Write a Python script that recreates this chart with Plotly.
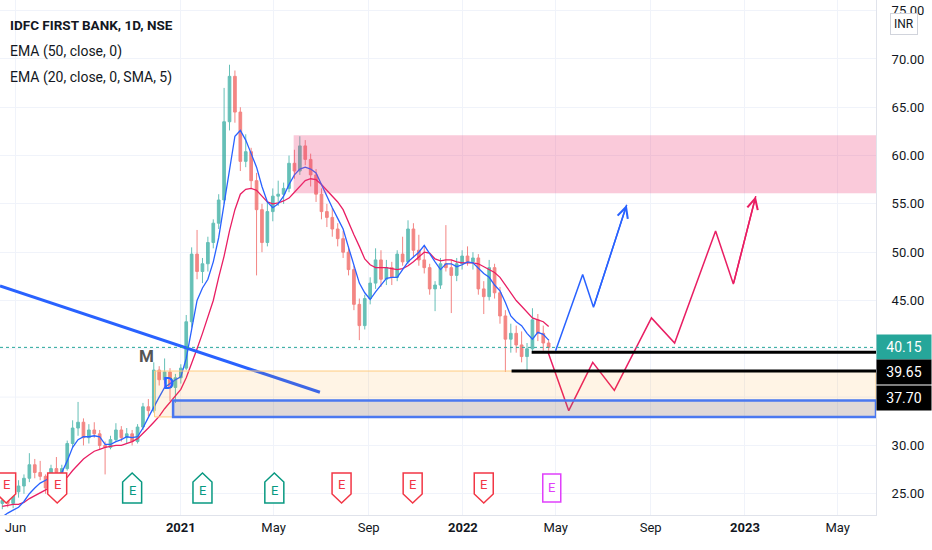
import plotly.graph_objects as go
import pandas as pd

# ---------------- данные (недельные свечи) ----------------
weeks = pd.date_range("2020-05-15", periods=102, freq="7D")

opens = [24.0, 24.3, 24.0, 25.2, 25.8, 26.6, 28.0, 27.2, 26.8, 25.6,
         27.6, 27.2, 27.6, 30.2, 31.8, 32.4, 30.8, 31.6, 31.2, 30.0,
         29.8, 30.6, 31.6, 30.8, 31.2, 30.4, 31.9, 34.0, 33.6, 37.8,
         36.8, 37.6, 36.0, 37.0, 38.0, 42.8, 49.8, 48.0, 48.8, 51.0,
         53.0, 55.4, 63.5, 68.2, 64.5, 59.4, 60.4, 57.4, 54.4, 51.0,
         54.2, 55.8, 56.0, 56.6, 59.2, 58.4, 61.0, 59.6, 58.0, 56.0,
         54.2, 53.6, 52.4, 51.4, 50.0, 48.2, 44.6, 42.4, 45.2, 46.8,
         49.2, 47.2, 48.4, 47.4, 49.8, 49.0, 52.4, 50.2, 49.2, 48.4,
         46.2, 46.6, 48.8, 48.4, 47.6, 48.8, 49.6, 49.0, 49.4, 46.2,
         45.4, 48.4, 45.8, 43.4, 41.0, 41.6, 40.4, 39.2, 40.0, 43.0,
         41.6, 40.6]
highs = [24.8, 24.9, 25.5, 26.4, 27.0, 29.2, 28.6, 28.4, 27.0, 28.0,
         28.8, 28.0, 30.5, 32.6, 34.5, 32.8, 32.2, 32.4, 31.6, 30.4,
         31.0, 32.3, 32.0, 31.8, 31.6, 32.2, 34.4, 34.8, 38.6, 38.2,
         39.0, 38.0, 37.4, 38.4, 43.5, 50.5, 52.3, 49.4, 51.6, 53.4,
         56.0, 67.0, 69.4, 68.8, 65.0, 62.2, 60.8, 58.2, 55.0, 55.2,
         56.6, 57.4, 57.2, 60.0, 60.6, 62.0, 61.6, 60.2, 58.6, 56.6,
         55.0, 54.6, 53.0, 52.2, 50.6, 48.6, 45.2, 45.6, 47.4, 50.4,
         50.2, 49.2, 49.0, 50.2, 51.6, 53.3, 53.0, 51.8, 50.6, 48.8,
         47.0, 49.4, 52.8, 49.2, 49.4, 50.2, 50.6, 50.0, 49.8, 47.0,
         49.2, 48.8, 46.4, 44.0, 42.6, 42.4, 41.8, 40.6, 44.2, 43.6,
         42.4, 41.0]
lows = [23.4, 23.6, 23.5, 24.6, 25.0, 26.2, 26.6, 26.4, 25.0, 25.4,
        26.6, 26.8, 27.4, 29.8, 31.0, 30.0, 30.2, 30.8, 29.6, 27.0,
        29.6, 30.4, 30.4, 30.2, 30.0, 30.2, 31.6, 33.0, 33.4, 36.2,
        36.4, 34.6, 34.4, 36.4, 37.8, 42.2, 47.2, 46.8, 48.0, 50.4,
        52.4, 55.0, 62.6, 63.4, 58.4, 58.8, 56.6, 47.6, 50.0, 50.6,
        53.2, 54.8, 55.0, 56.2, 57.6, 58.0, 59.0, 56.8, 55.2, 53.4,
        52.6, 51.6, 50.6, 49.4, 47.6, 44.0, 40.9, 42.0, 44.6, 46.2,
        46.4, 46.6, 46.6, 47.0, 48.6, 48.8, 49.4, 48.6, 47.8, 45.6,
        43.9, 46.2, 48.0, 43.7, 47.0, 48.2, 48.6, 48.2, 45.6, 43.6,
        45.0, 45.2, 42.6, 37.6, 39.6, 39.6, 38.6, 37.8, 39.8, 40.8,
        39.8, 39.8]
closes = [24.3, 24.0, 25.2, 25.8, 26.6, 28.0, 27.2, 26.8, 25.6, 27.6,
          27.2, 27.6, 30.2, 31.8, 32.4, 30.8, 31.6, 31.2, 30.0, 29.8,
          30.6, 31.6, 30.8, 31.2, 30.4, 31.9, 34.0, 33.6, 37.8, 36.8,
          37.6, 36.0, 37.0, 38.0, 42.8, 49.8, 48.0, 48.8, 51.0, 53.0,
          55.4, 63.5, 68.2, 64.5, 59.4, 60.4, 57.4, 54.4, 51.0, 54.2,
          55.8, 56.0, 56.6, 59.2, 58.4, 61.0, 59.6, 58.0, 56.0, 54.2,
          53.6, 52.4, 51.4, 50.0, 48.2, 44.6, 42.4, 45.2, 46.8, 49.2,
          47.2, 48.4, 47.4, 49.8, 49.0, 52.4, 50.2, 49.2, 48.4, 46.2,
          46.6, 48.8, 48.4, 47.6, 48.8, 49.6, 49.0, 49.4, 46.2, 45.4,
          48.4, 45.8, 43.4, 41.0, 41.6, 40.4, 39.2, 40.0, 43.0, 41.6,
          40.6, 40.15]

# EMA (быстрая - синяя, медленная - красная)
ema_fast = [22.6, 23.0, 23.3, 23.6, 24.2, 25.0, 25.6, 26.1, 26.4, 26.7,
            27.0, 27.2, 28.4, 29.8, 30.6, 30.9, 30.9, 31.0, 30.9, 30.1,
            30.1, 30.4, 30.6, 30.9, 30.8, 30.9, 31.8, 32.9, 34.0, 35.0,
            36.0, 36.4, 36.8, 37.1, 39.0, 42.0, 45.0, 46.3, 47.2, 49.0,
            51.5, 55.0, 58.6, 62.0, 62.6, 61.6, 60.2, 58.8, 56.8, 55.2,
            54.6, 55.0, 55.8, 57.0, 58.0, 58.6, 58.8, 58.6, 58.2, 57.0,
            55.7, 54.6, 53.5, 52.4, 50.5, 48.6, 46.8, 45.8, 45.1, 45.9,
            46.6, 47.3, 47.4, 47.4, 48.2, 49.0, 49.5, 50.0, 50.7, 49.8,
            49.0, 48.2, 48.8, 48.8, 48.5, 48.7, 49.0, 48.9, 48.3, 47.8,
            47.4, 46.6, 46.0, 44.8, 43.4, 42.8, 42.4, 41.6, 41.0, 41.7,
            41.5, 40.9]
ema_slow = [23.7, 23.8, 23.9, 23.9, 24.1, 24.5, 24.8, 25.1, 25.4, 25.7,
            26.0, 26.4, 26.7, 27.4, 28.0, 28.6, 29.0, 29.4, 29.6, 29.8,
            29.9, 30.0, 30.0, 30.2, 30.4, 30.7, 31.2, 31.8, 32.4, 33.0,
            33.8, 34.5, 35.1, 35.8, 37.0, 38.4, 40.0, 41.6, 43.4, 45.0,
            47.4, 49.6, 52.2, 54.4, 56.0, 56.5, 56.6, 56.4, 55.8, 55.2,
            55.0, 55.1, 55.3, 55.6, 56.2, 56.8, 57.4, 57.6, 57.5, 57.0,
            56.4, 55.8, 55.2, 54.4, 53.0, 51.8, 50.6, 49.3, 48.7, 48.4,
            48.4, 48.4, 48.3, 48.2, 48.3, 48.6, 49.0, 49.5, 50.0, 49.9,
            49.3, 49.1, 49.2, 49.2, 49.0, 48.9, 48.9, 48.9, 48.8, 48.5,
            48.2, 47.9, 47.4, 46.6, 45.7, 45.0, 44.4, 43.8, 43.2, 43.0,
            42.8, 42.3]

# рисунки на графике
trend_dates = ["2020-05-12", "2021-06-30"]
trend_prices = [46.5, 35.5]

zone_names = ["supply", "demand", "base"]
zone_starts = ["2021-05-27", "2020-11-28", "2020-12-22"]
zone_lows = [56.1, 32.95, 32.95]
zone_highs = [62.1, 37.7, 34.65]

level_prices = [39.65, 37.70]
level_starts = ["2022-03-31", "2022-03-05"]

blue_path_dates = ["2022-05-01", "2022-06-05", "2022-06-19", "2022-08-01"]
blue_path_prices = [39.8, 47.7, 44.3, 54.9]
red_path_dates = ["2022-04-21", "2022-05-18", "2022-06-18", "2022-07-16", "2022-09-02",
                  "2022-10-02", "2022-11-24", "2022-12-17", "2023-01-15"]
red_path_prices = [39.7, 33.6, 38.6, 35.7, 43.2, 40.6, 52.2, 46.7, 55.8]

label_texts = ["M", "D"]
label_dates = ["2020-11-17", "2020-12-16"]
label_prices = [39.25, 36.46]

earn_dates = ["2020-05-20", "2020-07-25", "2020-10-30", "2021-01-29", "2021-05-02",
              "2021-07-28", "2021-10-28", "2022-01-28", "2022-04-26"]
earn_kind = ["miss", "miss", "beat", "beat", "beat", "miss", "miss", "miss", "next"]

tick_dates = ["2020-06-01", "2021-01-01", "2021-05-01", "2021-09-01", "2022-01-01",
              "2022-05-01", "2022-09-01", "2023-01-01", "2023-05-01"]
tick_text = ["Jun", "<b>2021</b>", "May", "Sep", "<b>2022</b>", "May", "Sep", "<b>2023</b>", "May"]
price_ticks = [25, 30, 45, 50, 55, 60, 65, 70, 75]
hidden_ticks = [35, 40]   # подписи закрыты ценовыми метками, остаётся только сетка

# ---------------- оформление ----------------
x_start, x_end = "2020-05-12", "2023-06-19 14:00"
up_col, dn_col = "#26a69a", "#ef5350"
blue, crimson = "#2962ff", "#e91e63"
txt = "#131722"
grid = "#f0f3fa"
e_level = 25.6
font = "Roboto"

fig = go.Figure()

fig.add_trace(go.Candlestick(x=weeks, open=opens, high=highs, low=lows, close=closes,
                             increasing=dict(line=dict(color=up_col, width=1), fillcolor=up_col),
                             decreasing=dict(line=dict(color=dn_col, width=1), fillcolor=dn_col),
                             opacity=0.7, whiskerwidth=0, showlegend=False, hoverinfo="skip"))

fig.add_trace(go.Scatter(x=weeks, y=ema_slow, mode="lines", line=dict(color=crimson, width=1.3),
                         showlegend=False, hoverinfo="skip"))
fig.add_trace(go.Scatter(x=weeks, y=ema_fast, mode="lines", line=dict(color=blue, width=1.3),
                         showlegend=False, hoverinfo="skip"))

for p in hidden_ticks:
    fig.add_shape(type="line", xref="paper", yref="y", x0=0, x1=1, y0=p, y1=p,
                  layer="below", line=dict(color=grid, width=1))

# зоны (поверх свечей, полупрозрачные)
zone_style = {
    "supply": dict(fillcolor="rgba(236, 64, 122, 0.28)", line=dict(width=0)),
    "demand": dict(fillcolor="rgba(255, 152, 0, 0.10)", line=dict(color="#ffcc80", width=1)),
    "base": dict(fillcolor="rgba(100, 110, 160, 0.20)", line=dict(color="#4a78f0", width=2.5)),
}
for name, s, lo, hi in zip(zone_names, zone_starts, zone_lows, zone_highs):
    fig.add_shape(type="rect", xref="x", yref="y", x0=s, x1=x_end, y0=lo, y1=hi,
                  layer="above", **zone_style[name])

# линия последней цены
fig.add_shape(type="line", xref="paper", yref="y", x0=0, x1=1, y0=closes[-1], y1=closes[-1],
              line=dict(color=up_col, width=1, dash="dot"))

# чёрные уровни
for s, p in zip(level_starts, level_prices):
    fig.add_shape(type="line", xref="x", yref="y", x0=s, x1=x_end, y0=p, y1=p,
                  line=dict(color="black", width=3))

# трендовая линия
fig.add_trace(go.Scatter(x=trend_dates, y=trend_prices, mode="lines", line=dict(color=blue, width=3),
                         showlegend=False, hoverinfo="skip"))

# сценарии (стрелки)
for dts, prs, col in [(blue_path_dates, blue_path_prices, blue), (red_path_dates, red_path_prices, crimson)]:
    fig.add_trace(go.Scatter(x=dts, y=prs, mode="lines", line=dict(color=col, width=1.5),
                             showlegend=False, hoverinfo="skip"))
    fig.add_annotation(x=dts[-1], y=prs[-1], ax=dts[-2], ay=prs[-2], xref="x", yref="y",
                       axref="x", ayref="y", text="", showarrow=True, arrowhead=5,
                       arrowsize=1.4, arrowwidth=1.5, arrowcolor=col)

# метки M / D
for t, d, p in zip(label_texts, label_dates, label_prices):
    fig.add_annotation(x=d, y=p, text=f"<b>{t}</b>", showarrow=False,
                       font=dict(family=font, size=17, color="#555555" if t == "M" else blue))

# отчёты (E)
e_shape = {
    "miss": ("M -9.5,15 L 9.5,15 L 9.5,-6 L 0,-15 L -9.5,-6 Z", "#f23645", 3),
    "beat": ("M -9.5,-15 L 9.5,-15 L 9.5,6 L 0,15 L -9.5,6 Z", "#089981", -3),
    "next": ("M -9,-14 L 9,-14 L 9,14 L -9,14 Z", "#e040fb", 0),
}
for d, k in zip(earn_dates, earn_kind):
    path, col, sh = e_shape[k]
    fig.add_shape(type="path", xref="x", yref="y", xsizemode="pixel", ysizemode="pixel",
                  xanchor=d, yanchor=e_level, path=path, fillcolor="white",
                  line=dict(color=col, width=1.5))
    fig.add_annotation(x=d, y=e_level, yshift=sh, text="E", showarrow=False,
                       font=dict(family=font, size=13, color=col))

# легенда сверху слева
head = ["<b>IDFC FIRST BANK, 1D, NSE</b>", "EMA (50, close, 0)", "EMA (20, close, 0, SMA, 5)"]
head_size = [13.5, 14, 14]
for i, h in enumerate(head):
    fig.add_annotation(xref="paper", yref="paper", x=0, y=1 - (25 + 26 * i) / 515, xshift=8,
                       xanchor="left", yanchor="middle", text=h, showarrow=False,
                       font=dict(family=font, size=head_size[i], color=txt))

# метки цен на шкале
price_labels = [(closes[-1], up_col, 0), (level_prices[0], "black", -20), (level_prices[1], "black", -27)]
for p, bg, sh in price_labels:
    fig.add_annotation(xref="paper", yref="y", x=1, y=p, yshift=sh, xanchor="left", yanchor="middle",
                       text=f"{p:.2f}", showarrow=False, bgcolor=bg, width=50, height=20, borderpad=2,
                       font=dict(family=font, size=14, color="white"))

fig.add_annotation(xref="paper", yref="paper", x=1, xshift=14, y=1 - 24 / 515, xanchor="left",
                   yanchor="middle", text="INR", showarrow=False, bgcolor="white",
                   bordercolor="#d1d4dc", borderwidth=1, borderpad=3,
                   font=dict(family=font, size=12, color=txt))

fig.update_layout(width=932, height=550, margin=dict(l=0, r=56, t=0, b=35),
                  paper_bgcolor="white", plot_bgcolor="white", showlegend=False, dragmode=False,
                  xaxis=dict(type="date", range=[x_start, x_end], tickvals=tick_dates, ticktext=tick_text,
                             showgrid=True, gridcolor=grid, zeroline=False, rangeslider=dict(visible=False),
                             showline=True, linecolor="#e0e3eb", ticks="",
                             tickfont=dict(family=font, size=13, color=txt)),
                  yaxis=dict(side="right", range=[22.8, 76.1], tickvals=price_ticks, tickformat=".2f",
                             showgrid=True, gridcolor=grid, zeroline=False, showline=True,
                             linecolor="#e0e3eb", ticks="", ticklabelstandoff=12,
                             tickfont=dict(family=font, size=13, color=txt)))

# убираем стандартный отступ страницы, чтобы график занял окно целиком
fig.write_html("out.html", config={"displayModeBar": False},
               post_script="document.body.style.margin='0';")
